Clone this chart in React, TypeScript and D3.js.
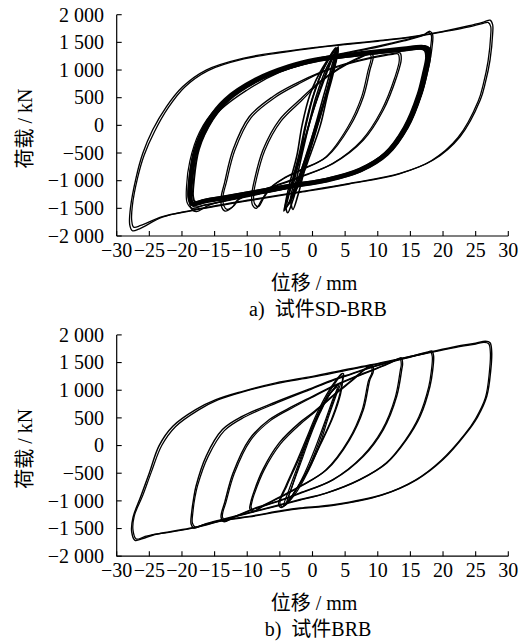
import React from 'react';
import * as d3 from 'd3';

type Pt = [number, number];

const xTicks = [-30, -25, -20, -15, -10, -5, 0, 5, 10, 15, 20, 25, 30];
const xTickLabels = ['−30', '−25', '−20', '−15', '−10', '−5', '0', '5', '10', '15', '20', '25', '30'];
const yTicks = [2000, 1500, 1000, 500, 0, -500, -1000, -1500, -2000];
const yTickLabels = ['2 000', '1 500', '1 000', '500', '0', '−500', '−1 000', '−1 500', '−2 000'];
const xTitle = '位移 / mm';
const yTitle = '荷载 / kN';
const captionA = 'a)  试件SD-BRB';
const captionB = 'b)  试件BRB';

// ---------- Panel a: SD-BRB ----------
const a27c1: Pt[] = [[-26.5,-1870],[-27.6,-1905],[-28.0,-1800],[-27.9,-1500],[-27.0,-930],[-26.0,-506],[-24.5,-85],[-22.4,336],[-19.9,698],[-16.3,1000],[-10.7,1211],[-4.6,1331],[0.5,1410],[5,1470],[10,1530],[15,1600],[20,1700],[24,1800],[26.3,1870],[27.2,1900],[27.6,1820],[27.6,1650],[27.2,1180],[26.5,780],[25.7,457],[22.6,-206],[18.5,-627],[13.4,-868],[5.7,-1049],[-1.9,-1200],[-9.7,-1350],[-18.4,-1532],[-23,-1660]];
const a27c2: Pt[] = [[-26.3,-1810],[-27.4,-1840],[-27.7,-1720],[-27.6,-1450],[-26.8,-950],[-25.8,-540],[-24.2,-110],[-22.1,320],[-19.6,690],[-16.0,990],[-10.5,1200],[-4.5,1320],[0.5,1400],[5,1460],[10,1520],[15,1590],[20,1690],[24,1780],[26.0,1840],[26.9,1860],[27.3,1790],[27.3,1620],[26.9,1160],[26.2,760],[25.4,440],[22.3,-220],[18.2,-640],[13.2,-880],[5.6,-1060],[-1.9,-1210],[-9.7,-1360],[-18.4,-1540],[-23,-1650]];
const a18core: Pt[] = [[-18.4,-1420],[-18.8,-1300],[-18.7,-1050],[-17.9,-446],[-15.8,96],[-13.3,458],[-8.7,819],[-3.6,1060],[0.5,1181],[5,1260],[10,1330],[14,1380],[16.8,1410],[17.6,1380],[17.8,1250],[17.3,950],[16.5,578],[14.4,-25],[11.4,-506],[7.3,-808],[2.2,-989],[-3,-1090],[-8,-1195],[-13,-1300],[-16.5,-1370]];
const a18inner: Pt[] = [[-18.0,-1380],[-18.3,-1280],[-18.2,-1030],[-17.4,-430],[-15.3,100],[-12.8,455],[-8.3,805],[-3.3,1040],[0.5,1160],[5,1235],[10,1305],[14,1355],[16.5,1385],[17.2,1350],[17.4,1230],[16.9,930],[16.1,560],[14.0,-35],[11.0,-510],[7.0,-800],[2.0,-970],[-3,-1065],[-8,-1170],[-13,-1275],[-16.3,-1340]];
const a18first: Pt[] = [[-18.2,-1470],[-18.9,-1350],[-19.0,-1050],[-18.4,-600],[-16.8,-50],[-14.2,360],[-9.5,760],[-4,1040],[0.5,1200],[5,1310],[10,1430],[14,1540],[17,1640],[18.0,1700],[18.4,1640],[18.3,1400],[17.7,1000],[16.8,600],[14.7,0],[11.7,-490],[7.5,-800],[2.4,-990],[-3,-1120],[-8,-1240],[-13,-1360],[-16.5,-1440]];
const a18second: Pt[] = [[-18.4,-1500],[-19.2,-1400],[-19.3,-1100],[-18.8,-650],[-17.3,-120],[-14.8,300],[-10.2,700],[-4.5,1010],[0.5,1190],[5,1300],[10,1415],[14,1525],[17,1625],[17.8,1680],[18.2,1630],[18.1,1420],[17.6,1060],[16.9,650],[14.9,40],[11.9,-470],[7.7,-790],[2.5,-980],[-3,-1110],[-8,-1230],[-13,-1350],[-16.8,-1450]];
const a18hook: Pt[] = [[-17.8,-1560],[-18.6,-1500],[-18.9,-1250],[-18.5,-800],[-16.9,-250],[-14.5,230],[-10.0,640],[-5,960],[0,1150],[5,1250],[10,1330],[14,1390],[17.2,1440],[17.9,1400],[18.0,1280],[17.5,950],[16.7,570],[14.6,-40],[11.6,-520],[7.5,-830],[2.3,-1010],[-3,-1120],[-8,-1230],[-13,-1350],[-16,-1450]];
const a13c1: Pt[] = [[-13.4,-1550],[-13.9,-1480],[-14.0,-1300],[-13.5,-1049],[-12.2,-446],[-9.7,156],[-6.1,518],[-2.5,759],[1,950],[5,1110],[9,1230],[12.5,1300],[13.4,1310],[13.6,1200],[12.9,879],[10.85,277],[7.8,-266],[3.2,-687],[-1.9,-929],[-5.5,-1080],[-9,-1220],[-11.5,-1350],[-12.3,-1480]];
const a13c2: Pt[] = [[-13.1,-1520],[-13.6,-1450],[-13.7,-1280],[-13.2,-1030],[-11.9,-450],[-9.4,140],[-5.8,500],[-2.2,745],[1,935],[5,1095],[9,1215],[12.3,1285],[13.1,1290],[13.3,1180],[12.6,860],[10.55,265],[7.5,-275],[3.0,-695],[-1.9,-940],[-5.5,-1090],[-9,-1230],[-11.3,-1340],[-12.0,-1450]];
const a8c1: Pt[] = [[-8.6,-1500],[-9.2,-1440],[-9.3,-1250],[-8.9,-989],[-7.6,-446],[-5.1,96],[-2.0,458],[1,780],[4,1030],[7,1220],[9,1300],[9.3,1250],[8.8,1000],[7.8,518],[5.7,-25],[2.2,-567],[-1.9,-808],[-4.5,-960],[-6.5,-1130],[-7.8,-1350]];
const a8c2: Pt[] = [[-8.3,-1470],[-8.9,-1410],[-9.0,-1230],[-8.6,-975],[-7.3,-450],[-4.8,80],[-1.7,445],[1,760],[4,1015],[7,1205],[8.8,1285],[9.0,1230],[8.5,985],[7.5,505],[5.4,-35],[2.0,-575],[-1.9,-818],[-4.5,-970],[-6.3,-1120],[-7.5,-1320]];
const a4c1: Pt[] = [[-4.2,-1500],[-3.6,-1100],[-2.4,-550],[-1.6,0],[-0.4,550],[1.6,1050],[3.9,1400],[3.2,950],[2.2,500],[1.2,0],[-0.4,-550],[-2.2,-1100]];
const a4c2: Pt[] = [[-3.9,-1450],[-3.2,-1050],[-2.0,-500],[-1.1,0],[0,500],[1.8,1050],[3.7,1380],[3.0,950],[1.9,450],[0.8,0],[-0.5,-500],[-2.2,-1050]];
const a4c3: Pt[] = [[-3.5,-1420],[-2.8,-1000],[-1.6,-450],[-0.6,0],[0.5,500],[2.2,1050],[3.9,1360],[3.2,1000],[2.0,500],[0.5,0],[-0.8,-500],[-2.3,-1000]];
const a4c4: Pt[] = [[-4.4,-1550],[-3.4,-1150],[-2.0,-600],[-1.0,0],[0.3,600],[2.0,1100],[3.6,1400],[3.3,1150],[2.6,800],[1.0,100],[-0.6,-450],[-2.6,-1150]];
const a4c5: Pt[] = [[-3.0,-1520],[-3.3,-1380],[-2.6,-1050],[-1.4,-420],[-0.2,150],[1.4,700],[3.2,1250],[3.95,1420],[3.4,1100],[2.2,620],[0.8,50],[-0.9,-650],[-2.2,-1250]];
const a4c6: Pt[] = [[-3.8,-1580],[-4.1,-1450],[-3.0,-1000],[-1.3,-300],[0.2,300],[1.9,900],[3.5,1330],[2.8,1000],[1.5,450],[0.2,-100],[-1.4,-700],[-3.0,-1350]];

// ---------- Panel b: BRB ----------
const b27c1: Pt[] = [[-26.0,-1680],[-27.2,-1712],[-27.7,-1560],[-27.5,-1300],[-26.3,-916],[-25,-494],[-23.5,0],[-21.4,350],[-17.9,650],[-14.8,830],[-10.7,980],[-5.6,1133],[0,1250],[5,1370],[9,1460],[13.4,1570],[18,1690],[22,1790],[25,1850],[26.5,1885],[27.2,1860],[27.45,1700],[27.3,1350],[26.7,890],[25.3,520],[23.6,230],[20,-253],[16,-614],[10.8,-885],[3.2,-1070],[-1.9,-1130],[-4.6,-1175],[-9.7,-1280],[-13.3,-1340],[-18.4,-1487],[-22,-1560],[-24.5,-1620]];
const b27c2: Pt[] = [[-25.8,-1650],[-27.0,-1690],[-27.5,-1530],[-27.3,-1270],[-26.0,-900],[-24.7,-480],[-23.1,0],[-21.0,340],[-17.5,640],[-14.5,825],[-10.5,975],[-5.5,1120],[0,1235],[5,1355],[9,1450],[13.4,1560],[18,1680],[22,1775],[25,1835],[26.3,1865],[27.0,1840],[27.25,1680],[27.1,1330],[26.5,870],[25.0,490],[23.3,200],[19.7,-270],[15.7,-630],[10.5,-900],[3.0,-1085],[-1.9,-1140],[-4.6,-1185],[-9.7,-1290],[-13.3,-1350],[-18.4,-1495],[-22,-1570],[-24.5,-1610]];
const b18c1: Pt[] = [[-18.2,-1490],[-18.6,-1420],[-18.5,-1200],[-18.2,-950],[-17.85,-735],[-16.3,-193],[-13.8,289],[-10.7,530],[-5.6,788],[0,1042],[3,1180],[6,1300],[9,1420],[12,1520],[15,1610],[17.5,1685],[18.3,1705],[18.55,1620],[18.4,1350],[18,1072],[16.5,530],[14.4,108],[11.4,-313],[7.3,-614],[2.2,-855],[-1.9,-976],[-5,-1070],[-10,-1220],[-14,-1340],[-16.5,-1420]];
const b18c2: Pt[] = [[-18.0,-1470],[-18.4,-1400],[-18.3,-1180],[-18.0,-930],[-17.6,-720],[-16.0,-200],[-13.5,270],[-10.4,515],[-5.4,775],[0,1030],[3,1170],[6,1290],[9,1410],[12,1510],[15,1600],[17.4,1670],[18.1,1690],[18.35,1610],[18.2,1340],[17.8,1060],[16.3,520],[14.2,95],[11.2,-325],[7.1,-625],[2.0,-865],[-1.9,-985],[-5,-1080],[-10,-1230],[-14,-1350],[-16.5,-1425]];
const b14c1: Pt[] = [[-13.6,-1375],[-14.0,-1300],[-13.9,-1200],[-13.5,-1048],[-12.2,-506],[-9.7,108],[-6.6,470],[-3.0,711],[0,890],[3,1070],[6,1220],[9,1360],[11.5,1480],[13.2,1570],[13.6,1584],[13.8,1480],[13.67,1373],[12.9,890],[10.85,289],[7.8,-193],[3.2,-614],[-1.9,-855],[-5,-990],[-9,-1140],[-12,-1290]];
const b14c2: Pt[] = [[-13.4,-1360],[-13.8,-1290],[-13.7,-1190],[-13.3,-1040],[-12.0,-510],[-9.5,95],[-6.4,455],[-2.8,700],[0,875],[3,1055],[6,1210],[9,1350],[11.5,1470],[13.0,1555],[13.4,1570],[13.6,1470],[13.45,1360],[12.7,880],[10.65,280],[7.6,-200],[3.0,-625],[-1.9,-865],[-5,-1000],[-9,-1150],[-12,-1295]];
const b9c1: Pt[] = [[-9.2,-1200],[-9.6,-1140],[-9.5,-1050],[-9.2,-916],[-7.6,-434],[-5.1,48],[-2.0,410],[0,590],[2,790],[4,990],[6,1180],[7.8,1360],[8.9,1450],[9.2,1440],[9.3,1330],[8.8,1192],[7.8,650],[5.7,108],[2.2,-434],[-1.9,-735],[-5,-930],[-7.5,-1080]];
const b9c2: Pt[] = [[-9.0,-1185],[-9.4,-1120],[-9.3,-1030],[-9.0,-905],[-7.4,-440],[-4.9,30],[-1.8,395],[0,570],[2,775],[4,975],[6,1165],[7.7,1345],[8.7,1435],[9.0,1425],[9.1,1320],[8.6,1180],[7.6,640],[5.5,95],[2.0,-445],[-1.9,-745],[-5,-940],[-7.5,-1090]];
const b45c1: Pt[] = [[-4.8,-1120],[-5.2,-1060],[-4.1,-735],[-2.5,-313],[-1.0,108],[0.6,560],[2.2,930],[3.6,1180],[4.5,1300],[4.75,1300],[4.6,1150],[4.3,930],[3.2,530],[1.15,0],[-0.9,-494],[-2.8,-850],[-4.2,-1080]];
const b45c2: Pt[] = [[-4.6,-1110],[-5.0,-1040],[-3.9,-720],[-2.3,-300],[-0.8,115],[0.8,560],[2.4,930],[3.7,1170],[4.5,1280],[4.6,1200],[4.4,1050],[4.0,850],[2.9,470],[0.9,-40],[-1.1,-520],[-3.0,-880],[-4.2,-1060]];
const b4: Pt[] = [[-4.4,-1090],[-3.6,-800],[-2.2,-350],[-1.0,50],[0.8,550],[2.8,950],[4.3,1130],[3.6,900],[2.4,500],[1.2,50],[-0.6,-450],[-2.8,-900]];
const b35: Pt[] = [[-4.0,-1050],[-3.2,-760],[-1.9,-300],[-0.7,100],[1.0,580],[2.9,980],[4.0,1100],[3.3,850],[2.1,450],[0.8,0],[-0.9,-480],[-2.9,-880]];
const b3: Pt[] = [[-3.8,-1000],[-3.0,-700],[-1.6,-250],[-0.4,150],[1.2,600],[2.8,950],[3.8,1060],[3.0,800],[1.8,400],[0.4,-50],[-1.2,-500],[-2.8,-850]];

const X0 = 116.7, X1 = 508.3;
const FONT = "'Liberation Serif', 'Times New Roman', Times, 'DejaVu Serif', serif, 'Noto Sans CJK SC'";
const FS = 20;

interface Series { pts: Pt[]; w: number }

function Panel({ top, loops, caption }: { top: number; loops: Series[]; caption: string }) {
  const x = d3.scaleLinear().domain([-30, 30]).range([X0, X1]);
  const y = d3.scaleLinear().domain([-2000, 2000]).range([top + 221.3, top]);
  const line = d3.line<Pt>().x(d => x(d[0])).y(d => y(d[1])).curve(d3.curveCatmullRomClosed.alpha(0.5));
  const yBottom = y(-2000);
  return (
    <g>
      {loops.map((s, i) => (
        <path key={i} d={line(s.pts) || ''} fill="none" stroke="#000" strokeWidth={s.w} strokeLinejoin="round" />
      ))}
      <line x1={X0} x2={X0} y1={y(2000)} y2={yBottom} stroke="#000" strokeWidth={1.2} />
      <line x1={X0} x2={X1} y1={yBottom} y2={yBottom} stroke="#000" strokeWidth={1.2} />
      {yTicks.map((t, i) => (
        <g key={'y' + i}>
          <line x1={X0} x2={X0 + 5} y1={y(t)} y2={y(t)} stroke="#000" strokeWidth={1.1} />
          <text x={104} y={y(t)} dy="0.34em" textAnchor="end" fontFamily={FONT} fontSize={FS} style={{ whiteSpace: 'pre' }}>{yTickLabels[i]}</text>
        </g>
      ))}
      {xTicks.map((t, i) => (
        <g key={'x' + i}>
          <line x1={x(t)} x2={x(t)} y1={yBottom} y2={yBottom - 5} stroke="#000" strokeWidth={1.1} />
          <text x={x(t)} y={yBottom + 20.5} textAnchor="middle" fontFamily={FONT} fontSize={FS}>{xTickLabels[i]}</text>
        </g>
      ))}
      <text x={314} y={yBottom + 54} textAnchor="middle" fontFamily={FONT} fontSize={FS} style={{ whiteSpace: 'pre' }}>{xTitle}</text>
      <text x={318} y={yBottom + 80} textAnchor="middle" fontFamily={FONT} fontSize={FS} style={{ whiteSpace: 'pre' }}>{caption}</text>
      <text transform={`translate(32, ${top + 113.8}) rotate(-90)`} textAnchor="middle" fontFamily={FONT} fontSize={FS} style={{ whiteSpace: 'pre' }}>{yTitle}</text>
    </g>
  );
}

export default function App() {
  const loopsA: Series[] = [
    { pts: a27c1, w: 1.35 }, { pts: a27c2, w: 1.3 },
    { pts: a18first, w: 1.35 }, { pts: a18second, w: 1.25 }, { pts: a18hook, w: 1.35 },
    { pts: a18core, w: 5 }, { pts: a18inner, w: 2 },
    { pts: a13c1, w: 1.35 }, { pts: a13c2, w: 1.25 }, { pts: a8c1, w: 1.35 }, { pts: a8c2, w: 1.25 },
    { pts: a4c1, w: 1.6 }, { pts: a4c2, w: 1.6 }, { pts: a4c3, w: 1.6 },
    { pts: a4c4, w: 1.6 }, { pts: a4c5, w: 1.6 }, { pts: a4c6, w: 1.6 },
  ];
  const loopsB: Series[] = [
    { pts: b27c1, w: 1.45 }, { pts: b27c2, w: 1.25 },
    { pts: b18c1, w: 1.45 }, { pts: b18c2, w: 1.25 },
    { pts: b14c1, w: 1.45 }, { pts: b14c2, w: 1.25 },
    { pts: b9c1, w: 1.45 }, { pts: b9c2, w: 1.25 },
    { pts: b45c1, w: 1.35 }, { pts: b45c2, w: 1.25 },
    { pts: b4, w: 1.25 }, { pts: b35, w: 1.25 }, { pts: b3, w: 1.25 },
  ];
  return (
    <svg width={528} height={641} viewBox="0 0 528 641" style={{ position: 'absolute', left: 0, top: 0, background: '#fff' }}>
      <rect x={0} y={0} width={528} height={641} fill="#fff" />
      <Panel top={14.7} loops={loopsA} caption={captionA} />
      <Panel top={334.9} loops={loopsB} caption={captionB} />
    </svg>
  );
}
